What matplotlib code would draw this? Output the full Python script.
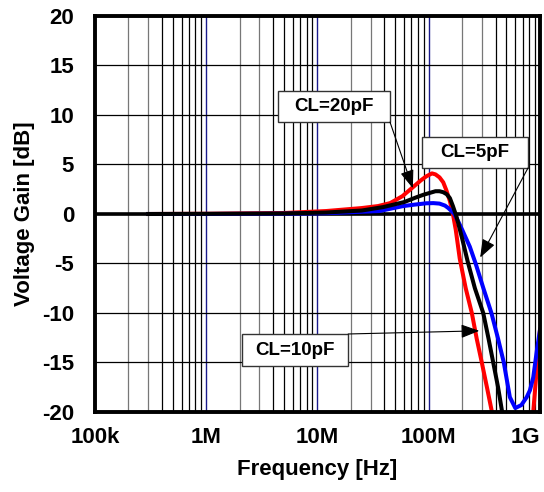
import matplotlib
matplotlib.use("Agg")
from matplotlib import pyplot as plt
from matplotlib.patches import Rectangle

plt.rcParams['font.family'] = ['Liberation Sans', 'DejaVu Sans']
plt.rcParams['font.weight'] = 'bold'
plt.rcParams['axes.unicode_minus'] = False

# CL=20pF (red)
f_20p = [3e5, 1e6, 5e6, 12e6, 25e6, 35e6, 45e6, 58e6, 72e6, 85e6, 95e6, 107e6, 115e6,
         125e6, 135e6, 144e6, 155e6, 165e6, 175e6, 190e6, 215e6, 244e6, 270e6, 300e6,
         335e6, 370e6, 450e6, 600e6, 750e6, 870e6, 930e6, 1e9]
g_20p = [0, 0.02, 0.1, 0.3, 0.6, 0.8, 1.1, 1.8, 2.7, 3.4, 3.8, 4.1, 4.0,
         3.7, 3.2, 2.4, 1.3, 0, -1.6, -4.5, -7.5, -10, -12.6, -15,
         -17.6, -20, -25, -30, -25, -20, -16, -11.7]

# CL=10pF (black)
f_10p = [3e5, 1e6, 5e6, 12e6, 25e6, 39e6, 60e6, 78e6, 90e6, 100e6, 115e6, 125e6,
         135e6, 145e6, 155e6, 165e6, 178e6, 200e6, 224e6, 260e6, 309e6, 345e6, 380e6,
         420e6, 457e6, 520e6]
g_10p = [0, 0.02, 0.05, 0.15, 0.35, 0.7, 1.2, 1.7, 1.95, 2.1, 2.3, 2.3,
         2.2, 2.0, 1.6, 0.8, -0.3, -2.5, -4.8, -7.5, -10, -12.6, -15,
         -17.5, -20, -24]

# CL=5pF (blue)
f_5p = [3e5, 1e6, 5e6, 12e6, 36e6, 59e6, 75e6, 95e6, 110e6, 125e6, 140e6, 150e6,
        160e6, 170e6, 185e6, 200e6, 234e6, 264e6, 310e6, 366e6, 420e6, 473e6, 536e6,
        600e6, 680e6, 760e6, 813e6, 870e6, 940e6, 1e9]
g_5p = [0, 0, 0.03, 0.08, 0.3, 0.8, 0.95, 1.08, 1.1, 1.05, 0.85, 0.6,
        0.3, 0, -0.8, -1.6, -3.3, -5, -7.5, -10, -12.6, -15, -18.5,
        -19.6, -19.3, -18.5, -17.8, -16.5, -13.7, -11.7]

x_ticks = [1e5, 1e6, 1e7, 1e8, 1e9]
x_labels = ['100k', '1M', '10M', '100M', '1G']
y_ticks = [-20, -15, -10, -5, 0, 5, 10, 15, 20]

fig = plt.figure(figsize=(5.44, 4.92), dpi=100)
ax = fig.add_axes([0.1746, 0.1626, 0.8180, 0.8049])
ax.set_xscale('log')
ax.set_xlim(1e5, 1e9)
ax.set_ylim(-20, 20)

# grid
for dec in [1e5, 1e6, 1e7, 1e8]:
    for m in range(2, 10):
        c = '#777777' if m in (2, 3) else 'black'
        ax.axvline(dec * m, color=c, lw=0.9, zorder=1)
for dec in [1e6, 1e7, 1e8]:
    ax.axvline(dec, color='#1a1a8c', lw=1.0, zorder=1)
for y in y_ticks:
    ax.axhline(y, color='black', lw=0.9, zorder=1)
ax.axhline(0, color='black', lw=2.6, zorder=2)

ax.plot(f_20p, g_20p, color='red', lw=2.9, zorder=3, solid_joinstyle='round')
ax.plot(f_10p, g_10p, color='black', lw=2.9, zorder=4, solid_joinstyle='round')
ax.plot(f_5p, g_5p, color='blue', lw=2.9, zorder=3, solid_joinstyle='round')

ax.set_xticks(x_ticks)
ax.set_xticklabels(x_labels)
ax.xaxis.set_minor_locator(plt.NullLocator())
ax.set_yticks(y_ticks)
ax.tick_params(axis='both', labelsize=16, length=0)
ax.tick_params(axis='x', pad=11)
ax.tick_params(axis='y', pad=15)
ax.get_xticklabels()[-1].set_ha('right')
for s in ax.spines.values():
    s.set_linewidth(2.8)
    s.set_zorder(6)

ax.set_xlabel('Frequency [Hz]', fontsize=16, fontweight='bold', labelpad=8)
ax.set_ylabel('Voltage Gain [dB]', fontsize=16, fontweight='bold', labelpad=5)

# label boxes (axes fraction) and arrows
boxes = [
    ('CL=20pF', (0.411, 0.732, 0.252, 0.079), (0.663, 0.732), (7.2e7, 2.6)),
    ('CL=5pF', (0.735, 0.616, 0.238, 0.078), (0.973, 0.616), (2.9e8, -4.4)),
    ('CL=10pF', (0.330, 0.116, 0.239, 0.081), (0.569, 0.197), (2.85e8, -11.8)),
]
for label, (bx, by, bw, bh), start, target in boxes:
    ax.add_patch(Rectangle((bx, by), bw, bh, transform=ax.transAxes,
                           facecolor='white', edgecolor='#333333', lw=1.0, zorder=7))
    ax.text(bx + bw / 2, by + bh / 2, label, transform=ax.transAxes,
            ha='center', va='center', fontsize=13.5, fontweight='bold', zorder=8)
    ax.annotate('', xy=target, xycoords='data', xytext=start, textcoords='axes fraction',
                arrowprops=dict(arrowstyle='-|>,head_length=0.8,head_width=0.3',
                                color='black', lw=0.8, mutation_scale=14,
                                shrinkA=0, shrinkB=0),
                zorder=8)

fig.savefig('out.png', dpi=100)
